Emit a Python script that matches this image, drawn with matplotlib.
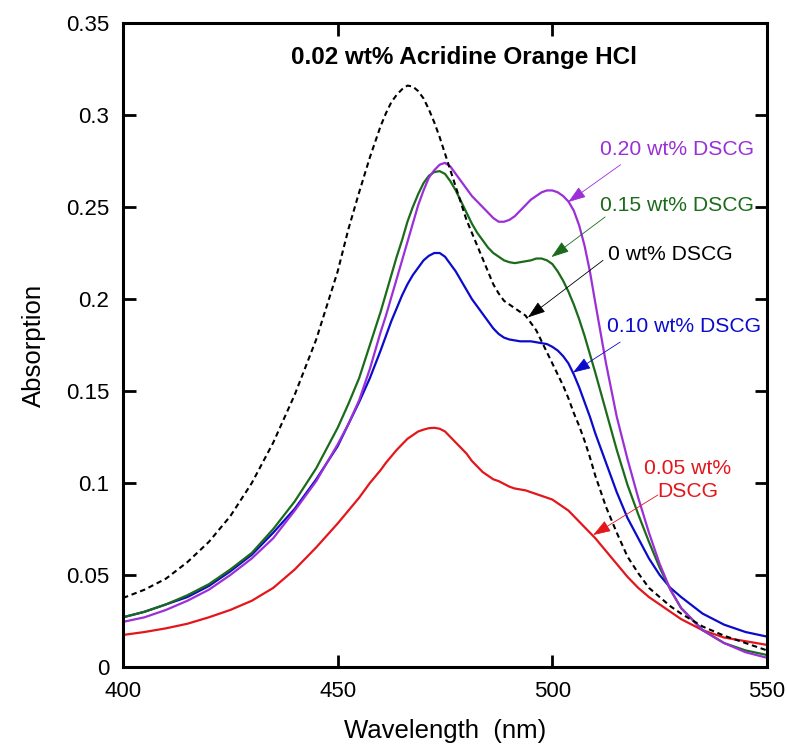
import matplotlib
matplotlib.use("Agg")
import matplotlib.pyplot as plt

plt.rcParams['font.family'] = ['Liberation Sans', 'DejaVu Sans']

wavelength = [400, 405, 410, 415, 420, 425, 430, 435, 440, 445, 450, 452.5, 455, 457.5,
              460, 461.25, 462.5, 463.75, 465, 466.25, 467.5, 468.75, 470, 471.25,
              472.5, 473.75, 475, 476.25, 477.5, 478.75, 480, 481.25, 482.5, 483.75,
              485, 486.25, 487.5, 488.75, 490, 491.25, 492.5, 493.75, 495, 496.25,
              497.5, 498.75, 500, 501.25, 502.5, 503.75, 505, 506.25, 507.5, 508.75, 510,
              512.5, 515, 517.5, 520, 522.5, 525, 527.5, 530, 535, 540, 545, 550]

abs_0 = [0.0375, 0.042, 0.048, 0.057, 0.068, 0.082, 0.100, 0.122, 0.148, 0.178, 0.215, 0.238, 0.258, 0.277,
         0.294, 0.301, 0.307, 0.311, 0.314, 0.316, 0.3155, 0.313, 0.309, 0.303,
         0.296, 0.288, 0.279, 0.270, 0.261, 0.252, 0.243, 0.236, 0.229, 0.222,
         0.215, 0.208, 0.203, 0.199, 0.197, 0.195, 0.193, 0.191, 0.187, 0.183,
         0.177, 0.171, 0.165, 0.159, 0.153, 0.146, 0.138, 0.131, 0.123, 0.114, 0.104,
         0.087, 0.073, 0.060, 0.051, 0.043, 0.038, 0.033, 0.029, 0.022, 0.017, 0.013, 0.009]

abs_005 = [0.0174, 0.019, 0.021, 0.0235, 0.027, 0.031, 0.036, 0.043, 0.053, 0.065, 0.078, 0.085, 0.092, 0.100,
           0.107, 0.111, 0.1145, 0.118, 0.121, 0.124, 0.126, 0.128, 0.129, 0.1298,
           0.130, 0.1295, 0.128, 0.125, 0.122, 0.119, 0.116, 0.112, 0.109, 0.106,
           0.104, 0.102, 0.101, 0.0995, 0.098, 0.097, 0.0965, 0.096, 0.095, 0.094,
           0.093, 0.092, 0.091, 0.089, 0.087, 0.085, 0.082, 0.079, 0.076, 0.073, 0.070,
           0.063, 0.056, 0.049, 0.043, 0.038, 0.034, 0.030, 0.026, 0.020, 0.016, 0.014, 0.012]

abs_010 = [0.027, 0.030, 0.034, 0.038, 0.044, 0.052, 0.061, 0.073, 0.086, 0.102, 0.120, 0.132, 0.144, 0.157,
           0.172, 0.180, 0.188, 0.195, 0.202, 0.208, 0.213, 0.217, 0.221, 0.2235,
           0.225, 0.225, 0.223, 0.219, 0.215, 0.210, 0.205, 0.200, 0.196, 0.192,
           0.188, 0.184, 0.181, 0.179, 0.178, 0.1775, 0.177, 0.177, 0.177, 0.1765,
           0.176, 0.1755, 0.174, 0.172, 0.169, 0.165, 0.159, 0.152, 0.144, 0.136, 0.127,
           0.111, 0.095, 0.081, 0.070, 0.059, 0.050, 0.043, 0.038, 0.029, 0.023, 0.019, 0.0165]

abs_015 = [0.027, 0.030, 0.034, 0.039, 0.045, 0.053, 0.062, 0.075, 0.090, 0.108, 0.130, 0.143, 0.157, 0.175,
           0.193, 0.203, 0.213, 0.223, 0.232, 0.242, 0.250, 0.257, 0.263, 0.267,
           0.269, 0.2695, 0.268, 0.264, 0.259, 0.253, 0.247, 0.241, 0.236, 0.232,
           0.228, 0.225, 0.223, 0.221, 0.220, 0.2195, 0.220, 0.2205, 0.221, 0.222,
           0.222, 0.221, 0.219, 0.215, 0.210, 0.204, 0.197, 0.189, 0.180, 0.170, 0.160,
           0.139, 0.118, 0.099, 0.083, 0.068, 0.054, 0.042, 0.032, 0.020, 0.013, 0.009, 0.0065]

abs_020 = [0.0245, 0.027, 0.031, 0.036, 0.042, 0.050, 0.059, 0.070, 0.085, 0.101, 0.121, 0.132, 0.145, 0.162,
           0.182, 0.191, 0.201, 0.211, 0.221, 0.231, 0.241, 0.251, 0.259, 0.266,
           0.270, 0.273, 0.274, 0.272, 0.268, 0.264, 0.260, 0.256, 0.253, 0.250,
           0.247, 0.244, 0.242, 0.242, 0.243, 0.245, 0.248, 0.251, 0.254, 0.256,
           0.258, 0.259, 0.259, 0.258, 0.256, 0.253, 0.248, 0.240, 0.229, 0.215, 0.198,
           0.165, 0.136, 0.113, 0.092, 0.073, 0.056, 0.042, 0.032, 0.020, 0.013, 0.008, 0.005]

c_purple = '#9b2fd8'
c_green = '#1b6b1b'
c_blue = '#0b0bcc'
c_red = '#e3161b'

fig = plt.figure(figsize=(7.87, 7.5), dpi=100)
ax = fig.add_axes([0.1563, 0.1107, 0.8183, 0.8586])

ax.plot(wavelength, abs_005, color=c_red, lw=1.6)
ax.plot(wavelength, abs_010, color=c_blue, lw=1.6)
ax.plot(wavelength, abs_015, color=c_green, lw=1.6)
ax.plot(wavelength, abs_020, color=c_purple, lw=1.6)
ax.plot(wavelength, abs_0, color='black', lw=1.5, linestyle=(0, (2.6, 1.8)))

ax.set_xlim(400, 550)
ax.set_ylim(0, 0.35)
ax.set_xticks([400, 450, 500, 550])
ax.set_xticklabels(['400', '450', '500', '550'])
ax.set_yticks([0, 0.05, 0.1, 0.15, 0.2, 0.25, 0.3, 0.35])
ax.set_yticklabels(['0', '0.05', '0.1', '0.15', '0.2', '0.25', '0.3', '0.35'])
ax.tick_params(direction='in', length=9, width=2, labelsize=16, top=True, right=True,
               pad=10)
for s in ax.spines.values():
    s.set_linewidth(2.2)

ax.set_xlabel('Wavelength  (nm)', fontsize=18.5, labelpad=12)
ax.set_ylabel('Absorption', fontsize=18.5, labelpad=14)

ax.text(479.5, 0.3315, '0.02 wt% Acridine Orange HCl', fontsize=17.5, fontweight='bold',
        ha='center', va='center')

def arrow(tail, head, color):
    ax.annotate('', xy=head, xytext=tail,
                arrowprops=dict(arrowstyle='-|>,head_length=1.1,head_width=0.38', color=color,
                                lw=0.6, shrinkA=0, shrinkB=0))

fs = 15.2
ax.text(511.1, 0.281, '0.20 wt% DSCG', color=c_purple, fontsize=fs, va='center')
arrow((515.9, 0.273), (503.7, 0.2527), c_purple)
ax.text(511.1, 0.251, '0.15 wt% DSCG', color=c_green, fontsize=fs, va='center')
arrow((512.3, 0.2446), (499.8, 0.2228), c_green)
ax.text(513.0, 0.224, '0 wt% DSCG', color='black', fontsize=fs, va='center')
arrow((511.8, 0.221), (494.3, 0.190), 'black')
ax.text(512.7, 0.185, '0.10 wt% DSCG', color=c_blue, fontsize=fs, va='center')
arrow((515.8, 0.1766), (504.8, 0.160), c_blue)
ax.text(531.6, 0.1016, '0.05 wt%\nDSCG', color=c_red, fontsize=fs, va='center', ha='center',
        linespacing=1.25)
arrow((524.6, 0.0935), (509.5, 0.0717), c_red)

fig.savefig('out.png', dpi=100)
